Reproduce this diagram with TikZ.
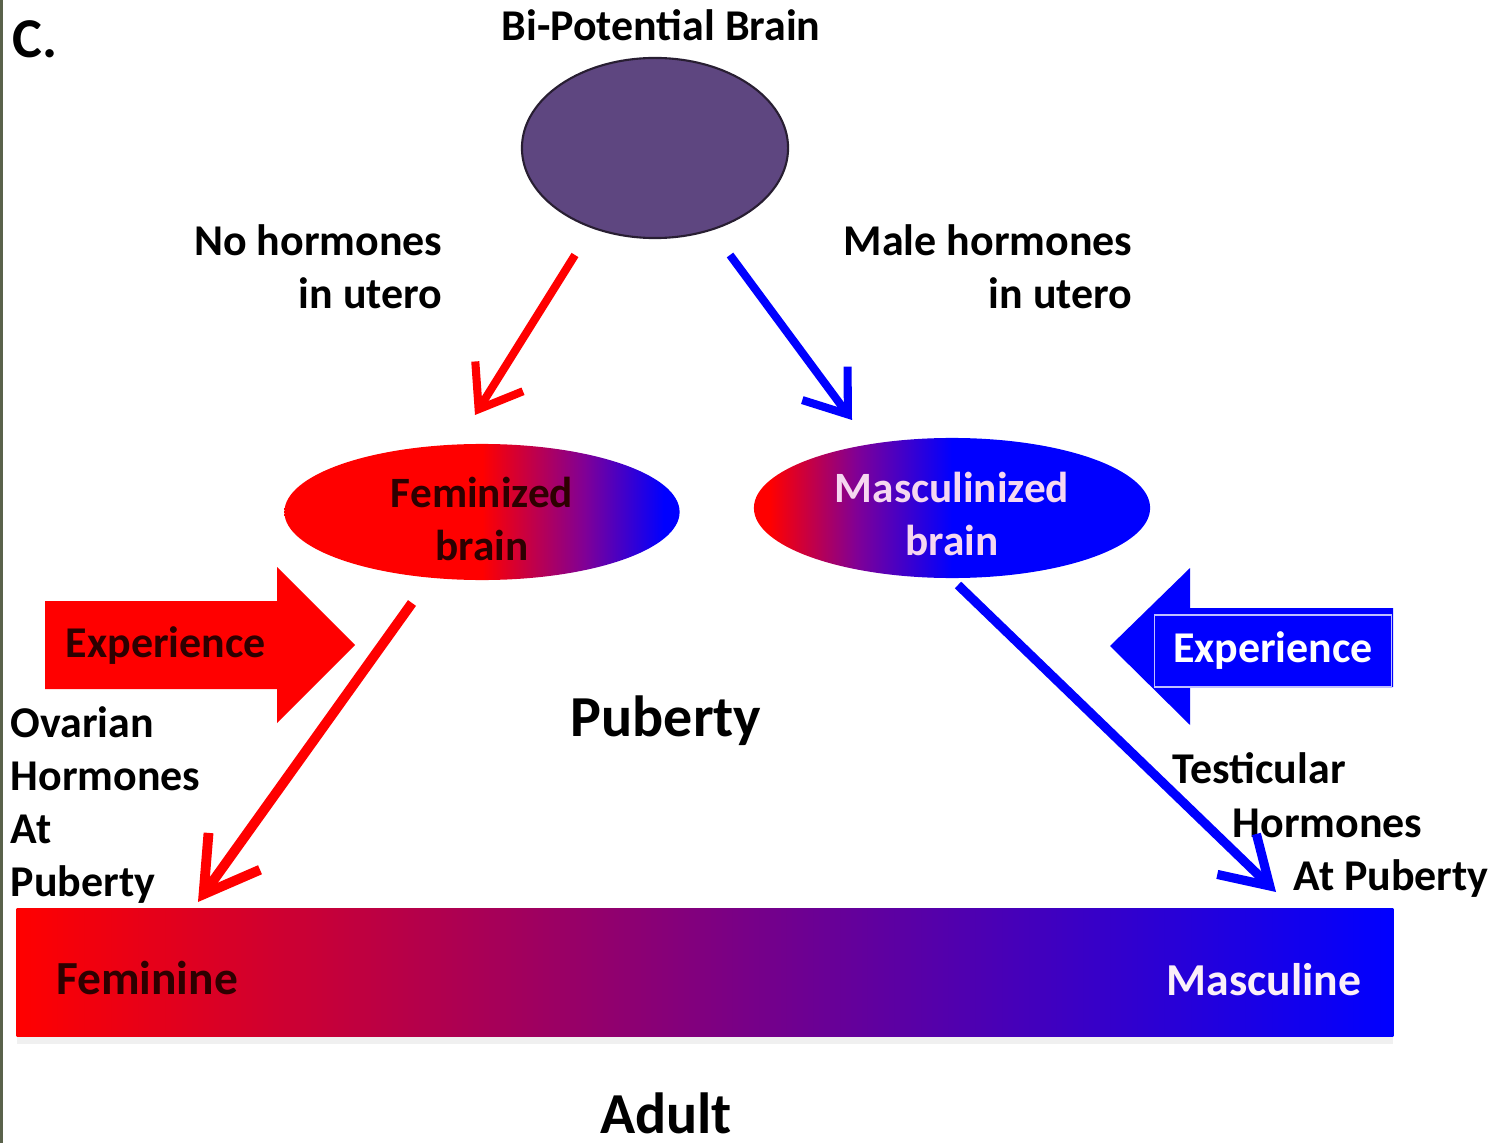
\documentclass[tikz,border=0pt]{standalone}
\usepackage{fontspec}
\setmainfont{Carlito}
\usepackage{tikz}
\usetikzlibrary{shapes.geometric, arrows.meta, shadows}

\definecolor{bipurple}{RGB}{94,70,128}
\definecolor{biedge}{RGB}{40,30,50}
\definecolor{fmid}{RGB}{128,0,150}
\definecolor{barmid}{RGB}{140,0,125}
\definecolor{inkred}{RGB}{45,0,0}
\definecolor{palepink}{RGB}{245,215,240}
\definecolor{edgegreen}{RGB}{90,98,75}

% colour runs of the two brain ellipses (box spans 25bp--75bp)
\pgfdeclarehorizontalshading{femshade}{100bp}{color(0bp)=(red); color(50bp)=(red); color(63bp)=(fmid); color(73bp)=(blue); color(100bp)=(blue)}
\pgfdeclarehorizontalshading{mascshade}{100bp}{color(0bp)=(red); color(27bp)=(red); color(38bp)=(fmid); color(50bp)=(blue); color(100bp)=(blue)}

\tikzset{
    labeltext/.style={inner sep=0pt, font=\bfseries\fontsize{12.5}{15.1}\selectfont},
    bigtext/.style={inner sep=0pt, font=\bfseries\fontsize{16.5}{20}\selectfont},
    brainnode/.style={ellipse, inner sep=0pt},
    braintext/.style={inner sep=0pt, align=center, font=\bfseries\fontsize{12.3}{15}\selectfont},
    redline/.style={draw=red, line width=2.3pt, -{Straight Barb[length=11pt, width=16pt]}},
    blueline/.style={draw=blue, line width=2.3pt, -{Straight Barb[length=11pt, width=16pt]}}
}

\begin{document}
\begin{tikzpicture}[x=0.01cm, y=-0.01cm]
    \useasboundingbox (0,0) rectangle (1497,1143);
    \fill[edgegreen] (0,0) rectangle (3,1143);

    \node[anchor=base west, inner sep=0pt, font=\bfseries\fontsize{16}{18}\selectfont] (panel) at (12,58) {C.};
    \node[anchor=base, labeltext] (bititle) at (661,41) {Bi-Potential Brain};
    \node[brainnode, minimum width=2.66cm, minimum height=1.8cm, fill=bipurple, draw=biedge, line width=0.6pt] (bipot) at (655,148) {};

    \node[labeltext, anchor=east, align=right] (nohorm) at (443,267) {No hormones\\in utero};
    \node[labeltext, anchor=east, align=right] (malehorm) at (1133,267) {Male hormones\\in utero};

    \node[brainnode, minimum width=3.95cm, minimum height=1.36cm, shading=femshade] (fem) at (482,512) {};
    \node[braintext, text=inkred] (femtxt) at ([shift={(0,7)}]fem.center) {Feminized\\brain};
    \node[brainnode, minimum width=3.96cm, minimum height=1.4cm, shading=mascshade] (masc) at (952,508) {};
    \node[braintext, text=palepink] (masctxt) at ([shift={(0,6)}]masc.center) {Masculinized\\brain};

    \draw[redline] ([shift={(-80,107)}]bipot.center) -- ([shift={(-7,-97)}]fem.center);
    \draw[blueline] ([shift={(75,107)}]bipot.center) -- ([shift={(-100,-88)}]masc.center);

    % experience block arrows
    \fill[red] (45,601) -- (277,601) -- (277,567) -- (355,645) -- (277,723) -- (277,689) -- (45,689) -- cycle;
    \fill[blue] (1393,608) -- (1190,608) -- (1190,568) -- (1110,646) -- (1190,725) -- (1190,687) -- (1393,687) -- cycle;
    \node[labeltext, text=inkred] (expfem) at (166,646) {Experience};
    \node[labeltext, text=white, draw=blue!25!white, line width=0.3pt, minimum width=2.36cm, minimum height=0.72cm] (expmasc) at (1273,651) {Experience};

    \node[bigtext] (puberty) at (666,721) {Puberty};
    \node[labeltext, anchor=west, align=left] (ovarian) at (10,805) {Ovarian\\Hormones\\At\\Puberty};
    \node[labeltext, anchor=west, align=left] (testic) at (1172,825) {Testicular\\\hspace*{0.6cm}Hormones\\\hspace*{1.21cm}At Puberty};

    % adult scale
    \node[rectangle, inner sep=0pt, minimum width=13.76cm, minimum height=1.28cm, left color=red, middle color=barmid, right color=blue,
        drop shadow={shadow xshift=0pt, shadow yshift=-2pt, opacity=0.12}] (bar) at (705,972.5) {};
    \node[labeltext, font=\bfseries\fontsize{13.5}{16}\selectfont, text=inkred] (femlab) at (147,978) {Feminine};
    \node[labeltext, font=\bfseries\fontsize{13}{16}\selectfont, text=palepink!40!white] (masclab) at (1264,980) {Masculine};

    \draw[redline, line width=2.8pt, -{Straight Barb[length=15pt, width=18pt]}] ([shift={(-70,91)}]fem.center) -- ([shift={(-507,-70.5)}]bar.center);
    \draw[blueline, line width=2.6pt, -{Straight Barb[length=13pt, width=16pt]}] ([shift={(6,77)}]masc.center) -- ([shift={(571,-80.5)}]bar.center);

    \node[bigtext] (adult) at (666,1113) {Adult};
\end{tikzpicture}
\end{document}
